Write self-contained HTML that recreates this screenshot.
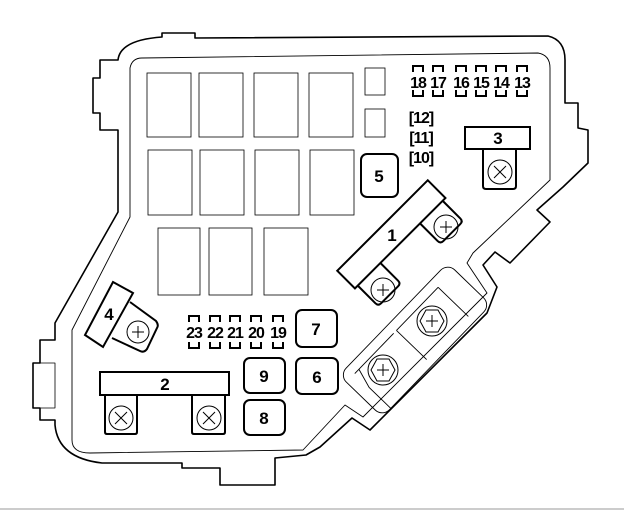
<!DOCTYPE html>
<html><head><meta charset="utf-8"><style>
html,body{margin:0;padding:0;background:#fff}
svg{display:block}
text{font-family:"Liberation Sans",sans-serif;font-weight:bold;fill:#000}
</style></head><body>
<svg width="624" height="510" viewBox="0 0 624 510" xmlns="http://www.w3.org/2000/svg">
<g fill="none" stroke="#000" stroke-linejoin="round">
<path stroke-width="1.6" d="M118,60 Q120,40 162,37 L162,33 L195,33 L195,38 L548,36 Q565,40 565,60 L565,103 L578,103 L578,128 L588,130 L588,163 L563,187 L537,210 L550,222 L510,263 L495,252 L483,265 L497,287 L487,313 L370,430 L352,418 L320,447 L306,455 L275,458 L275,485 L220,485 L220,468 L182,468 L182,463 L102,463 Q58,458 55,425 L55,420 L40,420 L40,408 L33,408 L33,363 L40,363 L40,340 L55,340 L55,323 L118,212 L118,130 L100,130 L100,113 L93,113 L93,78 L100,78 L100,60 Z"/>
<path stroke-width="0.8" d="M40,363 H55 V408 H40"/>
<path stroke-width="0.9" d="M142,58 L538,53 Q550,55 550,68 L550,180 L473,253 L467,263 L487,293 L363,417 L345,405 L303,450 L90,453 Q72,453 72,440 L72,330 L130,217 L130,68 Q132,58 142,58 Z"/>
</g>
<g fill="none" stroke="#000" stroke-width="0.8">
<rect x="147" y="73" width="44" height="64"/><rect x="199" y="73" width="44" height="64"/>
<rect x="254" y="73" width="44" height="64"/><rect x="309" y="73" width="44" height="64"/>
<rect x="365" y="68" width="20" height="27"/><rect x="365" y="109" width="20" height="28"/>
<rect x="148" y="150" width="44" height="65"/><rect x="200" y="150" width="44" height="65"/>
<rect x="255" y="150" width="44" height="65"/><rect x="310" y="150" width="44" height="65"/>
<rect x="158" y="228" width="42" height="67"/><rect x="209" y="228" width="43" height="67"/>
<rect x="264" y="228" width="44" height="67"/>
</g>
<g fill="none" stroke="#000" stroke-width="2">
<path d="M413,72 V66 H423 V72 M413,90 V96 H423 V90"/>
<path d="M433,72 V66 H443 V72 M433,90 V96 H443 V90"/>
<path d="M456,72 V66 H466 V72 M456,90 V96 H466 V90"/>
<path d="M476,72 V66 H486 V72 M476,90 V96 H486 V90"/>
<path d="M496,72 V66 H506 V72 M496,90 V96 H506 V90"/>
<path d="M517,72 V66 H527 V72 M517,90 V96 H527 V90"/>
<path d="M189,322 V316 H199 V322 M189,342 V348 H199 V342"/>
<path d="M210,322 V316 H220 V322 M210,342 V348 H220 V342"/>
<path d="M230,322 V316 H240 V322 M230,342 V348 H240 V342"/>
<path d="M251,322 V316 H261 V322 M251,342 V348 H261 V342"/>
<path d="M273,322 V316 H283 V322 M273,342 V348 H283 V342"/>
</g>
<g font-size="16" text-anchor="middle" letter-spacing="-1">
<text x="418" y="88">18</text><text x="438" y="88">17</text><text x="461" y="88">16</text>
<text x="481" y="88">15</text><text x="501" y="88">14</text><text x="522" y="88">13</text>
<text x="194" y="338">23</text><text x="215" y="338">22</text><text x="235" y="338">21</text>
<text x="256" y="338">20</text><text x="278" y="338">19</text>
<text x="421" y="123">[12]</text><text x="421" y="143">[11]</text><text x="421" y="163">[10]</text>
</g>
<g fill="none" stroke="#000" stroke-width="2">
<rect x="465" y="127" width="65" height="22" fill="#fff"/>
<path d="M483,149 V186 Q483,189 486,189 H513 Q516,189 516,186 V149"/>
<rect x="361" y="154" width="37" height="43" rx="6"/>
<rect x="296" y="310" width="41" height="37" rx="6"/>
<rect x="244" y="358" width="41" height="35" rx="6"/>
<rect x="296" y="358" width="42" height="36" rx="6"/>
<rect x="244" y="400" width="41" height="35" rx="6"/>
<rect x="100" y="372" width="129" height="23"/>
<path d="M105,395 V432 Q105,434 107,434 H135 Q137,434 137,432 V395"/>
<path d="M192,395 V432 Q192,434 194,434 H223 Q225,434 225,432 V395"/>
</g>
<g fill="none" stroke="#000" stroke-width="1">
<circle cx="500" cy="172" r="12"/><path d="M494,166 L506,178 M506,166 L494,178"/>
<circle cx="121" cy="418" r="12"/><path d="M115,412 L127,424 M127,412 L115,424"/>
<circle cx="209" cy="418" r="12"/><path d="M203,412 L215,424 M215,412 L203,424"/>
</g>
<g transform="translate(391,234) rotate(-45)">
<rect x="-64" y="-12" width="128" height="25" fill="#fff" stroke="#000" stroke-width="2"/>
<path d="M28,13 V38 Q28,42 32,42 H56 Q60,42 60,38 V13" fill="none" stroke="#000" stroke-width="2"/>
<path d="M-60,13 V38 Q-60,42 -56,42 H-32 Q-28,42 -28,38 V13" fill="none" stroke="#000" stroke-width="2"/>
</g>
<g fill="none" stroke="#000" stroke-width="1">
<circle cx="446" cy="227" r="12"/><path d="M446,221 V233 M440,227 H452"/>
<circle cx="383" cy="290" r="12"/><path d="M383,284 V296 M377,290 H389"/>
</g>
<text x="392" y="241" font-size="17" text-anchor="middle">1</text>
<polygon points="113,282 133,293 103,347 85,335" fill="#fff" stroke="#000" stroke-width="2"/>
<path d="M130,302 L156,321 Q159,325 157,328 L147,349 Q144,353 140,351 L112,338" fill="none" stroke="#000" stroke-width="2"/>
<circle cx="138" cy="332" r="11" fill="none" stroke="#000"/><path d="M132,332 H144 M138,326 V338" stroke="#000"/>
<g transform="translate(415,340) rotate(-46)" fill="none" stroke="#000" stroke-width="0.9">
<rect x="-78" y="-30" width="156" height="60" rx="10"/>
<path d="M-66,30 V0 L-60,-20 M-6,-20 V22 M54,-20 V22 M-6,-20 H54 M-66,-20 H-10"/>
</g>
<g fill="none" stroke="#000" stroke-width="1">
<circle cx="432" cy="321" r="15"/><polygon points="444,321 438,332 426,332 420,321 426,310 438,310"/><path d="M432,315 V327 M426,321 H438"/>
<circle cx="383" cy="370" r="15"/><polygon points="395,370 389,381 377,381 371,370 377,359 389,359"/><path d="M383,364 V376 M377,370 H389"/>
</g>
<g font-size="17" text-anchor="middle">
<text x="498" y="144">3</text><text x="379" y="182">5</text><text x="316" y="335">7</text>
<text x="264" y="382">9</text><text x="317" y="383">6</text><text x="264" y="424">8</text>
<text x="165" y="390">2</text><text x="109" y="320">4</text>
</g>
<line x1="0" y1="509" x2="624" y2="509" stroke="#999" stroke-width="1"/>
</svg>
</body></html>
